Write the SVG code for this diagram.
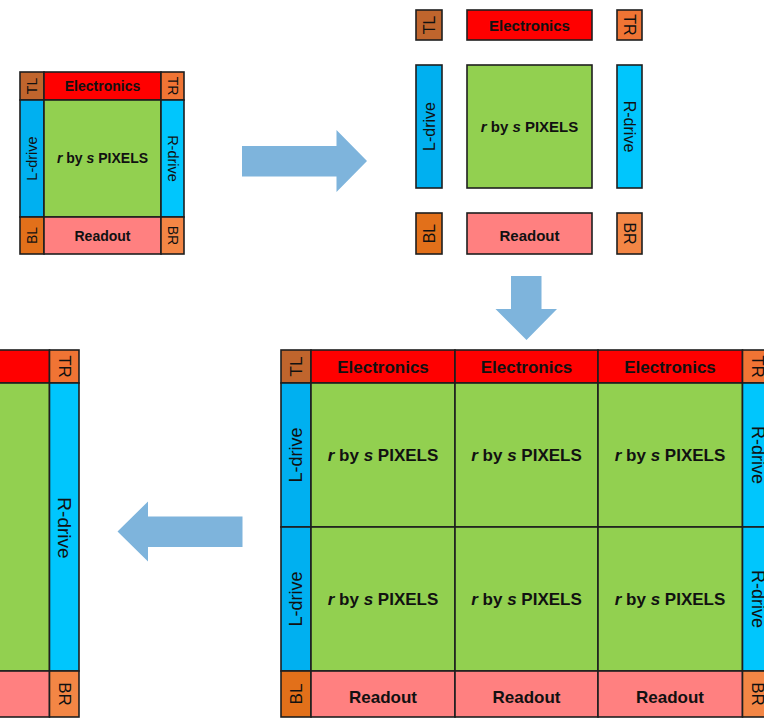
<svg xmlns="http://www.w3.org/2000/svg" width="764" height="718" viewBox="0 0 764 718">
<style>
rect{stroke:#1e1e1e;stroke-width:1.6}
.el{fill:#FF0000}.px{fill:#92D050}.ld{fill:#00B0F0}.rd{fill:#00C6FD}
.tl{fill:#C0652D}.tr{fill:#F07434}.bl{fill:#E2701A}.br{fill:#F38645}.ro{fill:#FF8080}
text{font-family:"Liberation Sans",Arial,sans-serif;fill:#111;text-anchor:middle;dominant-baseline:central}
.b{font-weight:bold}
.arrow{fill:#7EB4DC;stroke:none}
</style>

<!-- Small diagram -->
<g id="small">
<rect class="tl" x="20" y="72" width="24" height="28"/>
<text font-size="14" transform="rotate(-90 32 86)" x="32" y="86">TL</text>
<rect class="el" x="44" y="72" width="117" height="28"/>
<text class="b" font-size="14" x="102.5" y="86">Electronics</text>
<rect class="tr" x="161" y="72" width="23" height="28"/>
<text font-size="14" transform="rotate(90 172.5 86)" x="172.5" y="86">TR</text>
<rect class="ld" x="20" y="100" width="24" height="117"/>
<text font-size="14.5" transform="rotate(-90 32 158.5)" x="32" y="158.5">L-drive</text>
<rect class="px" x="44" y="100" width="117" height="117"/>
<text class="b" font-size="14" x="102.5" y="158"><tspan font-style="italic">r</tspan> by <tspan font-style="italic">s</tspan> PIXELS</text>
<rect class="rd" x="161" y="100" width="23" height="117"/>
<text font-size="14.5" transform="rotate(90 172.5 158.5)" x="172.5" y="158.5">R-drive</text>
<rect class="bl" x="20" y="217" width="24" height="37"/>
<text font-size="14" transform="rotate(-90 32 235.5)" x="32" y="235.5">BL</text>
<rect class="ro" x="44" y="217" width="117" height="37"/>
<text class="b" font-size="14" x="102.5" y="236">Readout</text>
<rect class="br" x="161" y="217" width="23" height="37"/>
<text font-size="14" transform="rotate(90 172.5 235.5)" x="172.5" y="235.5">BR</text>
</g>

<!-- Exploded diagram -->
<g id="exploded">
<rect class="tl" x="416" y="10" width="26" height="30"/>
<text font-size="16" transform="rotate(-90 429 25)" x="429" y="25">TL</text>
<rect class="el" x="467" y="10" width="125" height="30"/>
<text class="b" font-size="15" x="529.5" y="25">Electronics</text>
<rect class="tr" x="617" y="10" width="25" height="30"/>
<text font-size="16" transform="rotate(90 629.5 25)" x="629.5" y="25">TR</text>
<rect class="ld" x="416" y="65" width="26" height="123"/>
<text font-size="16" transform="rotate(-90 429 126.5)" x="429" y="126.5">L-drive</text>
<rect class="px" x="467" y="65" width="125" height="123"/>
<text class="b" font-size="15" x="529.5" y="126"><tspan font-style="italic">r</tspan> by <tspan font-style="italic">s</tspan> PIXELS</text>
<rect class="rd" x="617" y="65" width="25" height="123"/>
<text font-size="16" transform="rotate(90 629.5 126.5)" x="629.5" y="126.5">R-drive</text>
<rect class="bl" x="416" y="213" width="26" height="41"/>
<text font-size="16" transform="rotate(-90 429 233.5)" x="429" y="233.5">BL</text>
<rect class="ro" x="467" y="213" width="125" height="41"/>
<text class="b" font-size="15" x="529.5" y="235">Readout</text>
<rect class="br" x="617" y="213" width="25" height="41"/>
<text font-size="16" transform="rotate(90 629.5 233.5)" x="629.5" y="233.5">BR</text>
</g>

<!-- Big grid -->
<g id="grid">
<rect class="tl" x="281" y="350" width="30" height="33" stroke-width="2"/>
<text font-size="17" transform="rotate(-90 296 366.5)" x="296" y="366.5">TL</text>
<rect class="el" x="311" y="350" width="144" height="33" stroke-width="2"/>
<text class="b" font-size="17" x="383" y="367">Electronics</text>
<rect class="el" x="455" y="350" width="143" height="33" stroke-width="2"/>
<text class="b" font-size="17" x="526.5" y="367">Electronics</text>
<rect class="el" x="598" y="350" width="144.5" height="33" stroke-width="2"/>
<text class="b" font-size="17" x="670" y="367">Electronics</text>
<rect class="tr" x="742.5" y="350" width="30" height="33" stroke-width="2"/>
<text font-size="17" transform="rotate(90 757.5 366.5)" x="757.5" y="366.5">TR</text>

<rect class="ld" x="281" y="383" width="30" height="144" stroke-width="2"/>
<text font-size="18" transform="rotate(-90 296 455)" x="296" y="455">L-drive</text>
<rect class="px" x="311" y="383" width="144" height="144" stroke-width="2"/>
<text class="b" font-size="17" x="383" y="455"><tspan font-style="italic">r</tspan> by <tspan font-style="italic">s</tspan> PIXELS</text>
<rect class="px" x="455" y="383" width="143" height="144" stroke-width="2"/>
<text class="b" font-size="17" x="526.5" y="455"><tspan font-style="italic">r</tspan> by <tspan font-style="italic">s</tspan> PIXELS</text>
<rect class="px" x="598" y="383" width="144.5" height="144" stroke-width="2"/>
<text class="b" font-size="17" x="670" y="455"><tspan font-style="italic">r</tspan> by <tspan font-style="italic">s</tspan> PIXELS</text>
<rect class="rd" x="742.5" y="383" width="30" height="144" stroke-width="2"/>
<text font-size="18" transform="rotate(90 757.5 455)" x="757.5" y="455">R-drive</text>

<rect class="ld" x="281" y="527" width="30" height="144" stroke-width="2"/>
<text font-size="18" transform="rotate(-90 296 599)" x="296" y="599">L-drive</text>
<rect class="px" x="311" y="527" width="144" height="144" stroke-width="2"/>
<text class="b" font-size="17" x="383" y="599"><tspan font-style="italic">r</tspan> by <tspan font-style="italic">s</tspan> PIXELS</text>
<rect class="px" x="455" y="527" width="143" height="144" stroke-width="2"/>
<text class="b" font-size="17" x="526.5" y="599"><tspan font-style="italic">r</tspan> by <tspan font-style="italic">s</tspan> PIXELS</text>
<rect class="px" x="598" y="527" width="144.5" height="144" stroke-width="2"/>
<text class="b" font-size="17" x="670" y="599"><tspan font-style="italic">r</tspan> by <tspan font-style="italic">s</tspan> PIXELS</text>
<rect class="rd" x="742.5" y="527" width="30" height="144" stroke-width="2"/>
<text font-size="18" transform="rotate(90 757.5 599)" x="757.5" y="599">R-drive</text>

<rect class="bl" x="281" y="671" width="30" height="46" stroke-width="2"/>
<text font-size="17" transform="rotate(-90 296 694)" x="296" y="694">BL</text>
<rect class="ro" x="311" y="671" width="144" height="46" stroke-width="2"/>
<text class="b" font-size="17" x="383" y="697">Readout</text>
<rect class="ro" x="455" y="671" width="143" height="46" stroke-width="2"/>
<text class="b" font-size="17" x="526.5" y="697">Readout</text>
<rect class="ro" x="598" y="671" width="144.5" height="46" stroke-width="2"/>
<text class="b" font-size="17" x="670" y="697">Readout</text>
<rect class="br" x="742.5" y="671" width="30" height="46" stroke-width="2"/>
<text font-size="17" transform="rotate(90 757.5 694)" x="757.5" y="694">BR</text>
</g>

<!-- Left partial (zoomed) -->
<g id="partial">
<rect class="el" x="-10" y="350" width="59.5" height="33" stroke-width="2"/>
<rect class="tr" x="49.5" y="350" width="29.5" height="33" stroke-width="2"/>
<text font-size="17" transform="rotate(90 64.3 366.5)" x="64.3" y="366.5">TR</text>
<rect class="px" x="-10" y="383" width="59.5" height="288" stroke-width="2"/>
<rect class="rd" x="49.5" y="383" width="29.5" height="288" stroke-width="2"/>
<text font-size="19" transform="rotate(90 64.3 528)" x="64.3" y="528">R-drive</text>
<rect class="ro" x="-10" y="671" width="59.5" height="46" stroke-width="2"/>
<rect class="br" x="49.5" y="671" width="29.5" height="46" stroke-width="2"/>
<text font-size="17" transform="rotate(90 64.3 694)" x="64.3" y="694">BR</text>
</g>

<!-- Connectors (block arrows) -->
<g id="connectors">
<polygon class="arrow" points="242,146 336.5,146 336.5,130 367,161 336.5,192 336.5,176.5 242,176.5"/>
<polygon class="arrow" points="511,276 541.5,276 541.5,309 557,309 526.5,340 495.5,309 511,309"/>
<polygon class="arrow" points="242.5,516.5 148,516.5 148,501.5 117.5,531.5 148,561.5 148,547 242.5,547"/>
</g>
</svg>
